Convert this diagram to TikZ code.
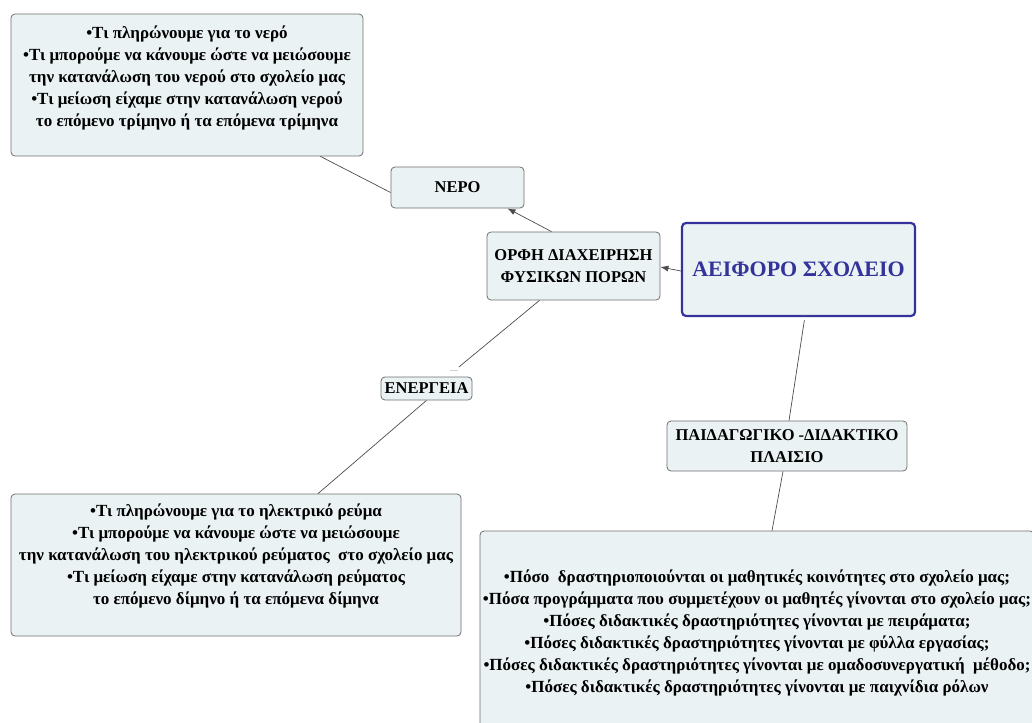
\documentclass[tikz,border=0pt]{standalone}
\usepackage{fontspec}
\setmainfont{Liberation Serif}
\usepackage{tikz}
\usetikzlibrary{arrows,arrows.meta}

\definecolor{boxfill}{HTML}{EAF2F4}
\definecolor{boxline}{HTML}{6E6E6E}
\definecolor{mainblue}{HTML}{33339B}

\begin{document}
\begin{tikzpicture}[x=1pt,y=-1pt]
        \tikzset{topic/.style = {draw=boxline, fill=boxfill, rounded corners=4pt, thick,
                                 align=center, inner sep=0pt, font=\bfseries\fontsize{16.5}{21.5}\selectfont}}
        \tikzset{notes/.style = {topic, font=\bfseries\fontsize{17}{22}\selectfont}}
        \tikzset{edge/.style = {-, draw=black!70, line width=0.7pt, > = {Latex[length=8pt,width=6pt]}}}

        \useasboundingbox (0,0) rectangle (1032,722);
        \clip (0,0) rectangle (1032,722);

        \node[notes, minimum width=352, minimum height=142] (nerotext) at (187,85)
            {\textbullet Τι πληρώνουμε για το νερό\\
             \textbullet Τι μπορούμε να κάνουμε ώστε να μειώσουμε\\
             την κατανάλωση του νερού στο σχολείο μας\\
             \textbullet Τι μείωση είχαμε στην κατανάλωση νερού\\
             το επόμενο τρίμηνο ή τα επόμενα τρίμηνα\\[-4pt]};
        \node[topic, minimum width=133, minimum height=41] (nero) at (457.5,187.5) {ΝΕΡΟ};
        \node[topic, minimum width=173, minimum height=68] (orfh) at (573.5,266)
            {ΟΡΦΗ ΔΙΑΧΕΙΡΗΣΗ\\ΦΥΣΙΚΩΝ ΠΟΡΩΝ};
        \node[topic, draw=mainblue, line width=2.2pt, text=mainblue, minimum width=233, minimum height=93,
              font=\bfseries\fontsize{22}{26}\selectfont] (aeiforo) at (798.5,269.5) {ΑΕΙΦΟΡΟ ΣΧΟΛΕΙΟ};
        \node[topic, minimum width=91, minimum height=23] (energeia) at (426.5,388.5) {ΕΝΕΡΓΕΙΑ};
        \node[notes, minimum width=450, minimum height=142] (energtext) at (236,565)
            {\textbullet Τι πληρώνουμε για το ηλεκτρικό ρεύμα\\
             \textbullet Τι μπορούμε να κάνουμε ώστε να μειώσουμε\\
             την κατανάλωση του ηλεκτρικού ρεύματος\ \ στο σχολείο μας\\
             \textbullet Τι μείωση είχαμε στην κατανάλωση ρεύματος\\
             το επόμενο δίμηνο ή τα επόμενα δίμηνα\\[0pt]};
        \node[topic, minimum width=240, minimum height=50] (paid) at (787,446)
            {ΠΑΙΔΑΓΩΓΙΚΟ -ΔΙΔΑΚΤΙΚΟ\\ΠΛΑΙΣΙΟ};
        \node[notes, minimum width=554, minimum height=204] (paidtext) at (757,633)
            {\textbullet Πόσο\ \ δραστηριοποιούνται οι μαθητικές κοινότητες στο σχολείο μας;\\
             \textbullet Πόσα προγράμματα που συμμετέχουν οι μαθητές γίνονται στο σχολείο μας;\\
             \textbullet Πόσες διδακτικές δραστηριότητες γίνονται με πειράματα;\\
             \textbullet Πόσες διδακτικές δραστηριότητες γίνονται με φύλλα εργασίας;\\
             \textbullet Πόσες διδακτικές δραστηριότητες γίνονται με ομαδοσυνεργατική\ \ μέθοδο;\\
             \textbullet Πόσες διδακτικές δραστηριότητες γίνονται με παιχνίδια ρόλων};

        % collapsed markers
        \node[font=\fontsize{8}{8}\selectfont, text=black!60] (more1) at (805,316) {....};
        \node[font=\fontsize{8}{8}\selectfont, text=black!60] (more2) at (454,371) {....};

        \draw[edge] ([xshift=-43]nerotext.south east) to ([yshift=-5]nero.west);
        \draw[edge, ->] ([xshift=-22]orfh.north) to ([xshift=50]nero.south);
        \draw[edge, ->] ([yshift=-1.5]aeiforo.west) to ([yshift=-1]orfh.east);
        \draw[edge] ([xshift=-34]orfh.south) to (more2);
        \draw[edge] (energeia.south) to ([xshift=82]energtext.north);
        \draw[edge] (more1) to ([xshift=2]paid.north);
        \draw[edge] ([xshift=-4]paid.south) to ([xshift=15]paidtext.north);
    \end{tikzpicture}
\end{document}
